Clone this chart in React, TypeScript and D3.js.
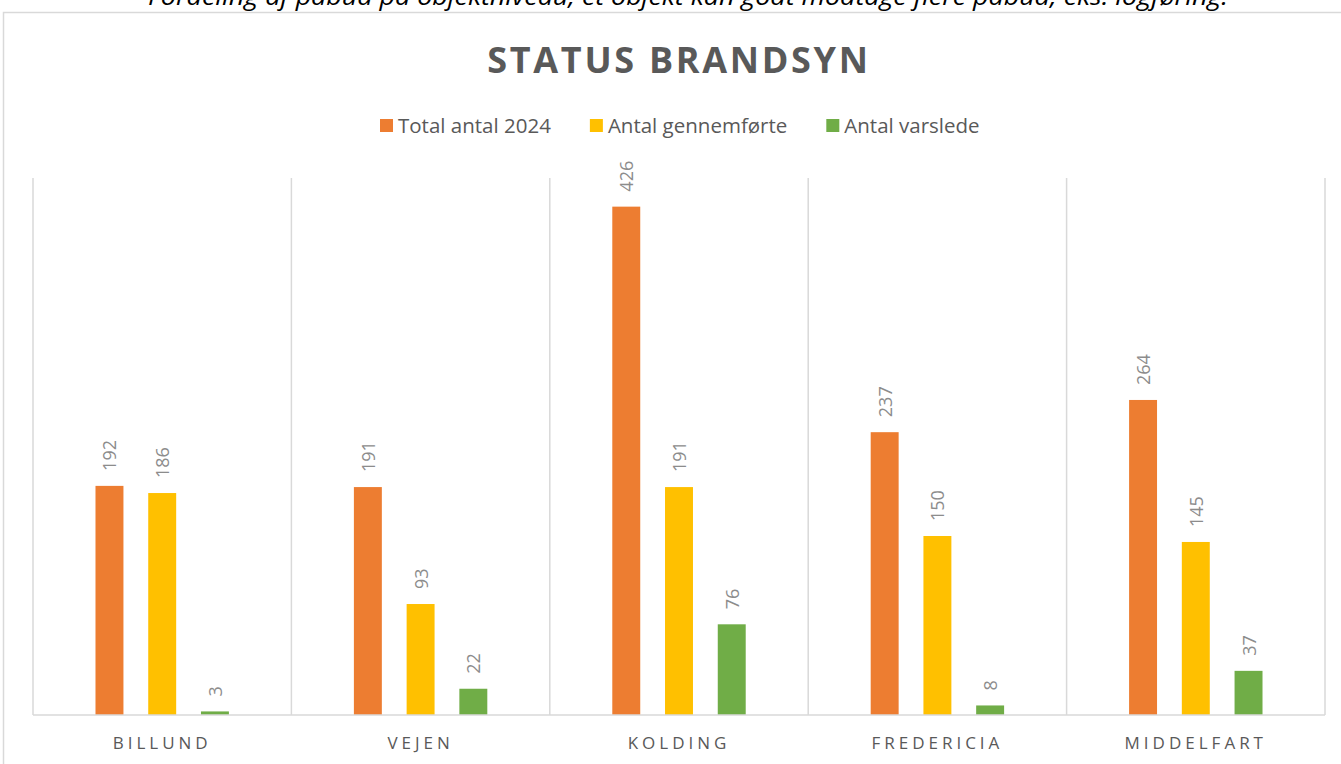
import React, { useEffect, useRef } from "react";
import * as d3 from "d3";

const categories = ["BILLUND", "VEJEN", "KOLDING", "FREDERICIA", "MIDDELFART"];
const seriesNames = ["Total antal 2024", "Antal gennemførte", "Antal varslede"];
const totalAntal = [192, 191, 426, 237, 264];
const gennemfoerte = [186, 93, 191, 150, 145];
const varslede = [3, 22, 76, 8, 37];
const colors = ["#ED7D31", "#FFC000", "#70AD47"];

const W = 1341;
const H = 764;

export default function App() {
  const svgRef = useRef<SVGSVGElement>(null);

  useEffect(() => {
    const svg = d3.select(svgRef.current);
    svg.selectAll("*").remove();
    const font = "'Open Sans', sans-serif";
    const values = [totalAntal, gennemfoerte, varslede];

    // note text above the chart box (cut off by the page top)
    svg
      .append("text")
      .attr("x", 148)
      .attr("y", 5)
      .attr("textLength", 1080)
      .attr("lengthAdjust", "spacingAndGlyphs")
      .style("font-family", font)
      .style("font-style", "italic")
      .style("font-size", "23px")
      .attr("fill", "#000")
      .text("Fordeling af påbud på objektniveau, et objekt kan godt modtage flere påbud, eks. logføring.");

    // chart box
    svg
      .append("rect")
      .attr("x", 3.5)
      .attr("y", 12.5)
      .attr("width", W + 10)
      .attr("height", H + 10)
      .attr("fill", "#fff")
      .attr("stroke", "#d9d9d9")
      .attr("stroke-width", 1.5);

    // title
    svg
      .append("text")
      .attr("x", 679)
      .attr("y", 73)
      .attr("text-anchor", "middle")
      .style("font-family", font)
      .style("font-weight", "bold")
      .style("font-size", "36px")
      .style("letter-spacing", "2.7px")
      .attr("fill", "#595959")
      .text("STATUS BRANDSYN");

    // legend
    const legend = svg.append("g");
    let lx = 380;
    seriesNames.forEach((name, i) => {
      legend
        .append("rect")
        .attr("x", lx)
        .attr("y", 119)
        .attr("width", 13)
        .attr("height", 13)
        .attr("fill", colors[i]);
      const t = legend
        .append("text")
        .attr("x", lx + 18)
        .attr("y", 133)
        .style("font-family", font)
        .style("font-size", "20.5px")
        .attr("fill", "#595959")
        .text(name);
      const w = (t.node() as SVGTextElement).getComputedTextLength();
      lx = lx + 18 + w + 39;
    });

    const x0 = d3.scaleBand().domain(categories).range([33, 1325]).paddingInner(0).paddingOuter(0);
    const x1 = d3
      .scaleBand()
      .domain(seriesNames)
      .range([0, x0.bandwidth()])
      .paddingInner(0.47)
      .paddingOuter(1.185);
    const y = d3.scaleLinear().domain([0, 450]).range([715, 178]);

    // vertical grid lines between categories
    const grid = categories.map((c) => x0(c) as number).concat([1325]);
    svg
      .append("g")
      .selectAll("line")
      .data(grid)
      .join("line")
      .attr("x1", (d) => d)
      .attr("x2", (d) => d)
      .attr("y1", y(450))
      .attr("y2", y(0))
      .attr("stroke", "#d9d9d9")
      .attr("stroke-width", 1.5);

    // bars
    const groups = svg
      .append("g")
      .selectAll("g")
      .data(categories)
      .join("g")
      .attr("transform", (c) => `translate(${x0(c)},0)`);

    groups
      .selectAll("rect")
      .data((c) => seriesNames.map((s, si) => ({ s, si, v: values[si][categories.indexOf(c)] })))
      .join("rect")
      .attr("x", (d) => x1(d.s) as number)
      .attr("y", (d) => y(d.v))
      .attr("width", x1.bandwidth())
      .attr("height", (d) => y(0) - y(d.v))
      .attr("fill", (d) => colors[d.si]);

    // rotated value labels
    groups
      .selectAll("text")
      .data((c) => seriesNames.map((s, si) => ({ s, si, v: values[si][categories.indexOf(c)] })))
      .join("text")
      .attr("transform", (d) => `translate(${(x1(d.s) as number) + x1.bandwidth() / 2},${y(d.v) - 15}) rotate(-90)`)
      .attr("dominant-baseline", "central")
      .style("font-family", font)
      .style("font-size", "18px")
      .attr("fill", "#8c8c8c")
      .text((d) => d.v);

    // baseline
    svg
      .append("line")
      .attr("x1", 33)
      .attr("x2", 1325)
      .attr("y1", y(0))
      .attr("y2", y(0))
      .attr("stroke", "#d9d9d9")
      .attr("stroke-width", 1.5);

    // category labels
    svg
      .append("g")
      .selectAll("text")
      .data(categories)
      .join("text")
      .attr("x", (c) => (x0(c) as number) + x0.bandwidth() / 2)
      .attr("y", 749)
      .attr("text-anchor", "middle")
      .style("font-family", font)
      .style("font-size", "17px")
      .style("letter-spacing", "4px")
      .attr("fill", "#595959")
      .text((c) => c);
  }, []);

  return (
    <svg
      ref={svgRef}
      width={W}
      height={H}
      style={{ position: "absolute", left: 0, top: 0, background: "#fff" }}
    />
  );
}
